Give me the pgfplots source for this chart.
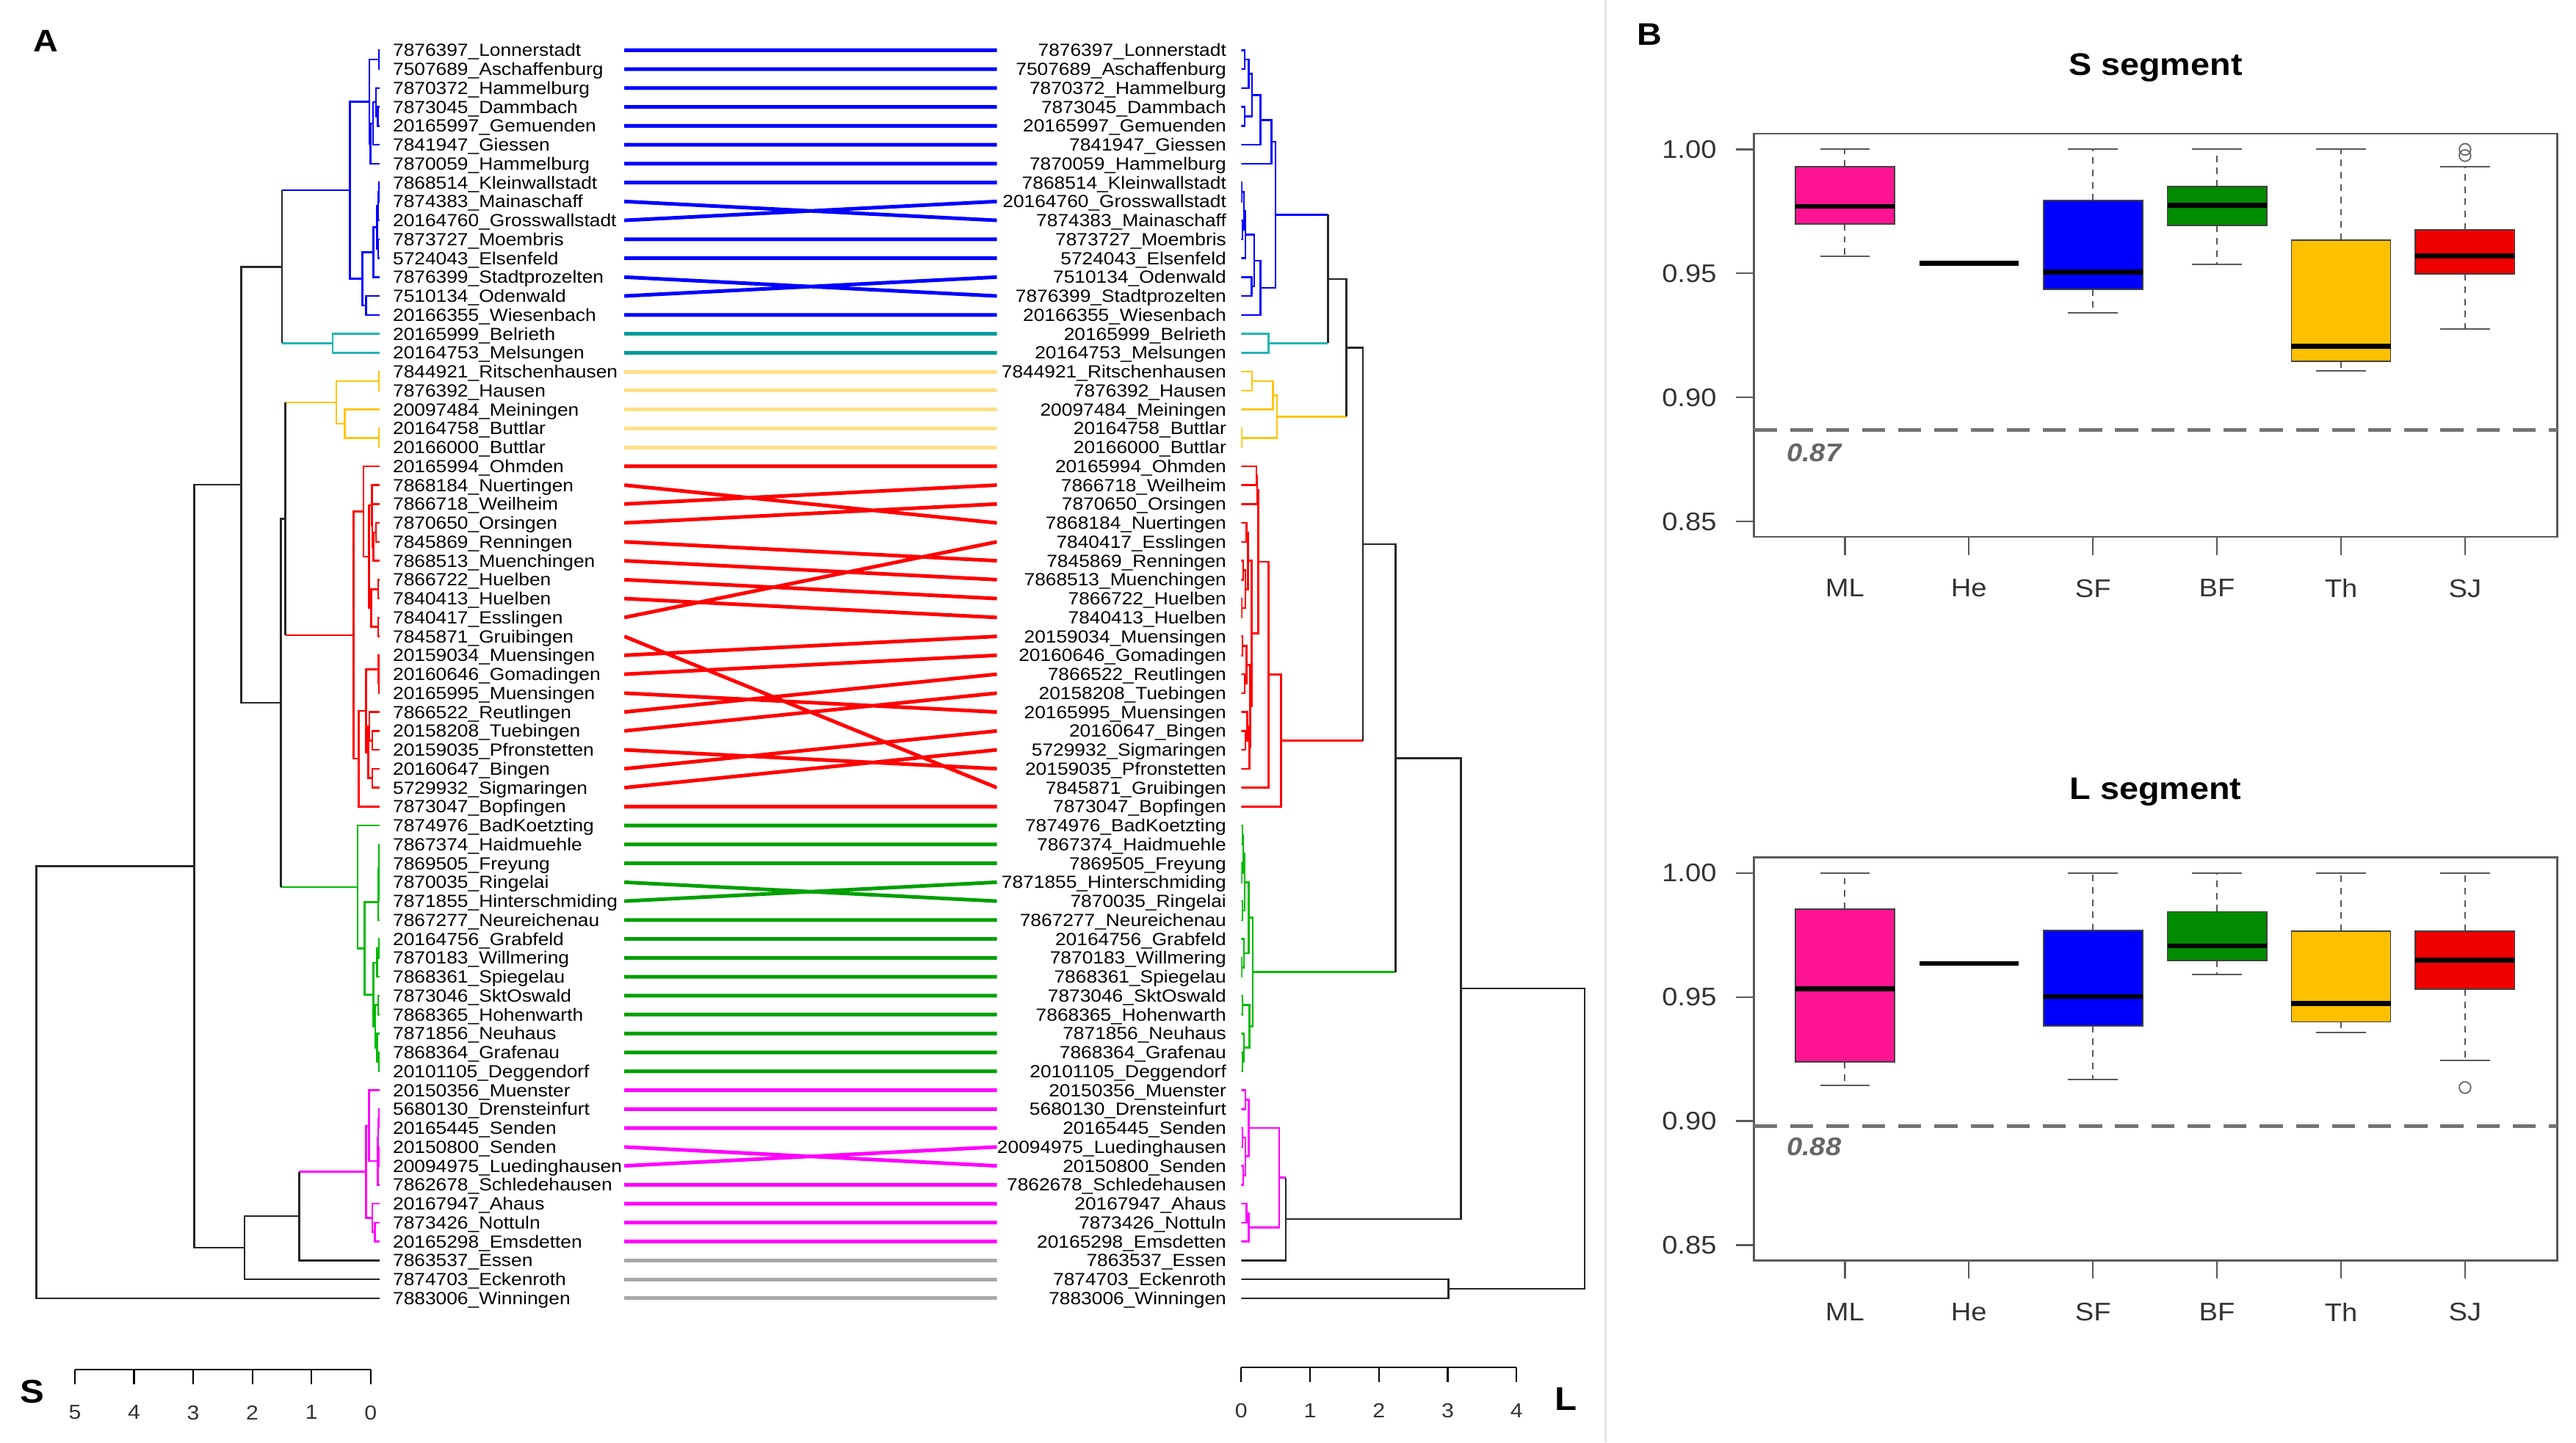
\documentclass[border=0pt]{standalone}
\usepackage{fontspec}
\setmainfont[FakeStretch=1.1]{Liberation Sans}
\newfontfamily\lab[FakeStretch=1.1]{Liberation Sans}
\usepackage{pgfplots}
\pgfplotsset{compat=1.18}
\usepgfplotslibrary{statistics}

\definecolor{dBlue}{HTML}{0000FF}
\definecolor{dTeal}{HTML}{22B5B5}
\definecolor{cTeal}{HTML}{009A9A}
\definecolor{dGold}{HTML}{FFC510}
\definecolor{cGold}{HTML}{FFDF85}
\definecolor{dRed}{HTML}{FF0000}
\definecolor{dGreen}{HTML}{00BB00}
\definecolor{cGreen}{HTML}{00A000}
\definecolor{dMag}{HTML}{FF00FF}
\definecolor{cGray}{HTML}{A8A8A8}
\definecolor{bML}{HTML}{FF1493}
\definecolor{bSF}{HTML}{0000FF}
\definecolor{bBF}{HTML}{008B00}
\definecolor{bTh}{HTML}{FFC000}
\definecolor{bSJ}{HTML}{EE0000}

\pgfplotsset{
  tang/.style={scale only axis, anchor=north west, height=782.68pt,
    ymin=0, ymax=68, y dir=reverse, unbounded coords=jump,
    axis line style={draw=none}, tick style={draw=none},
    major tick length=0pt, xtick=\empty},
  dend/.style={line width=1.15pt},
  conn/.style={line width=2.2pt},
  bxax/.style={scale only axis, anchor=north west, width=489.1pt, height=245.4pt,
    xmin=0.265, xmax=6.744, ymin=0.8438, ymax=1.0063,
    xtick={1,...,6}, xticklabels={ML,He,SF,BF,Th,SJ},
    ytick={0.85,0.9,0.95,1}, yticklabels={0.85,0.90,0.95,1.00},
    tick pos=left, tick align=outside, major tick length=11pt,
    axis line style={draw=black!65, line width=1.1pt},
    tick style={draw=black!65, line width=1pt},
    tick label style={font=\fontsize{15.5}{18}\selectfont, text=black!80, inner sep=0pt},
    xticklabel style={yshift=-14.6pt},
    yticklabel style={xshift=-11.5pt},
    title style={font=\bfseries\fontsize{19}{22}\selectfont, at={(0.5,1)}, anchor=center, yshift=34pt}},
  bx/.style={boxplot/draw direction=y, boxplot/box extend=0.8, boxplot/whisker extend=0,
    boxplot/every box/.style={draw=black!75, line width=0.8pt, fill=#1},
    boxplot/every whisker/.style={draw=black!65, line width=0.9pt, dash pattern=on 4pt off 3.5pt},
    boxplot/every median/.style={draw=black, line width=3pt}},
  caps/.style={only marks, mark=-, mark size=15.1pt, mark options={draw=black!65, line width=0.9pt}},
  scalebar/.style={scale only axis, anchor=south west, height=1pt, ymin=0, ymax=1,
    axis x line*=bottom, axis y line=none, tick align=outside, major tick length=9pt,
    tick style={draw=black, line width=1pt}, axis line style={draw=black, line width=1pt},
    xticklabel style={font=\fontsize{12.3}{14}\selectfont, text=black!80, inner sep=0pt, yshift=-12.7pt}},
}

\begin{document}
\begin{tikzpicture}
\path[use as bounding box] (0pt,0pt) rectangle (1568pt,-878pt);
\draw[draw=black!10, line width=1.5pt] (977.3pt,0pt) -- (977.3pt,-878pt);
\node[font=\bfseries\fontsize{19}{22}\selectfont] at (27.7pt,-24.9pt) {A};
\node[font=\bfseries\fontsize{19}{22}\selectfont] at (1004pt,-21pt) {B};
\node[font=\bfseries\fontsize{20}{24}\selectfont] at (19.6pt,-847pt) {S};
\node[font=\bfseries\fontsize{20}{24}\selectfont] at (953pt,-851.5pt) {L};

% ---------------- left dendrogram (S segment)
\begin{axis}[tang, at={(15pt,-19.02pt)}, width=216pt, xmin=0, xmax=6, x dir=reverse,
  ytick={1,...,67}, yticklabel pos=right,
  yticklabel style={anchor=west, inner sep=0pt, xshift=8pt, font=\lab\fontsize{10.7}{12}\selectfont, text=black, text height=7.7pt, text depth=0pt},
  yticklabels={7876397\_Lonnerstadt,7507689\_Aschaffenburg,7870372\_Hammelburg,7873045\_Dammbach,20165997\_Gemuenden,7841947\_Giessen,7870059\_Hammelburg,7868514\_Kleinwallstadt,7874383\_Mainaschaff,20164760\_Grosswallstadt,7873727\_Moembris,5724043\_Elsenfeld,7876399\_Stadtprozelten,7510134\_Odenwald,20166355\_Wiesenbach,20165999\_Belrieth,20164753\_Melsungen,7844921\_Ritschenhausen,7876392\_Hausen,20097484\_Meiningen,20164758\_Buttlar,20166000\_Buttlar,20165994\_Ohmden,7868184\_Nuertingen,7866718\_Weilheim,7870650\_Orsingen,7845869\_Renningen,7868513\_Muenchingen,7866722\_Huelben,7840413\_Huelben,7840417\_Esslingen,7845871\_Gruibingen,20159034\_Muensingen,20160646\_Gomadingen,20165995\_Muensingen,7866522\_Reutlingen,20158208\_Tuebingen,20159035\_Pfronstetten,20160647\_Bingen,5729932\_Sigmaringen,7873047\_Bopfingen,7874976\_BadKoetzting,7867374\_Haidmuehle,7869505\_Freyung,7870035\_Ringelai,7871855\_Hinterschmiding,7867277\_Neureichenau,20164756\_Grabfeld,7870183\_Willmering,7868361\_Spiegelau,7873046\_SktOswald,7868365\_Hohenwarth,7871856\_Neuhaus,7868364\_Grafenau,20101105\_Deggendorf,20150356\_Muenster,5680130\_Drensteinfurt,20165445\_Senden,20150800\_Senden,20094975\_Luedinghausen,7862678\_Schledehausen,20167947\_Ahaus,7873426\_Nottuln,20165298\_Emsdetten,7863537\_Essen,7874703\_Eckenroth,7883006\_Winningen}]
\addplot[dend, dBlue] coordinates {
(0,1)(0.01,1)(0.01,2)(0,2) (nan,nan)
(0,4)(0.03,4)(0.03,5)(0,5) (nan,nan)
(0,3)(0.06,3)(0.06,4.5)(0.03,4.5) (nan,nan)
(0.06,3.75)(0.11,3.75)(0.11,6)(0,6) (nan,nan)
(0.11,4.875)(0.15,4.875)(0.15,7)(0,7) (nan,nan)
(0.01,1.5)(0.17,1.5)(0.17,5.9375)(0.15,5.9375) (nan,nan)
(0,8)(0.01,8)(0.01,9)(0,9) (nan,nan)
(0.01,8.5)(0.02,8.5)(0.02,10)(0,10) (nan,nan)
(0,11)(0.02,11)(0.02,12)(0,12) (nan,nan)
(0.02,9.25)(0.04,9.25)(0.04,11.5)(0.02,11.5) (nan,nan)
(0.04,10.375)(0.10,10.375)(0.10,13)(0,13) (nan,nan)
(0,14)(0.23,14)(0.23,15)(0,15) (nan,nan)
(0.10,11.6875)(0.29,11.6875)(0.29,14.5)(0.23,14.5) (nan,nan)
(0.17,3.71875)(0.50,3.71875)(0.50,13.09375)(0.29,13.09375) (nan,nan)
(0.50,8.40625)(1.65,8.40625)};
\addplot[dend, dTeal] coordinates {
(0,16)(0.79,16)(0.79,17)(0,17) (nan,nan)
(0.79,16.5)(1.65,16.5)};
\addplot[dend, dGold] coordinates {
(0,18)(0.01,18)(0.01,19)(0,19) (nan,nan)
(0,21)(0.01,21)(0.01,22)(0,22) (nan,nan)
(0,20)(0.59,20)(0.59,21.5)(0.01,21.5) (nan,nan)
(0.01,18.5)(0.73,18.5)(0.73,20.75)(0.59,20.75) (nan,nan)
(0.73,19.625)(1.59,19.625)};
\addplot[dend, dRed] coordinates {
(0,26)(0.06,26)(0.06,27)(0,27) (nan,nan)
(0.06,26.5)(0.10,26.5)(0.10,28)(0,28) (nan,nan)
(0,25)(0.12,25)(0.12,27.25)(0.10,27.25) (nan,nan)
(0,24)(0.13,24)(0.13,26.125)(0.12,26.125) (nan,nan)
(0,29)(0.02,29)(0.02,30)(0,30) (nan,nan)
(0,31)(0.02,31)(0.02,32)(0,32) (nan,nan)
(0.02,29.5)(0.14,29.5)(0.14,31.5)(0.02,31.5) (nan,nan)
(0.13,25.0625)(0.18,25.0625)(0.18,30.5)(0.14,30.5) (nan,nan)
(0,23)(0.27,23)(0.27,27.78125)(0.18,27.78125) (nan,nan)
(0,34)(0.01,34)(0.01,35)(0,35) (nan,nan)
(0,33)(0.015,33)(0.015,34.5)(0.01,34.5) (nan,nan)
(0,37)(0.12,37)(0.12,38)(0,38) (nan,nan)
(0,36)(0.17,36)(0.17,37.5)(0.12,37.5) (nan,nan)
(0,39)(0.12,39)(0.12,40)(0,40) (nan,nan)
(0.17,36.75)(0.19,36.75)(0.19,39.5)(0.12,39.5) (nan,nan)
(0.015,33.75)(0.23,33.75)(0.23,38.125)(0.19,38.125) (nan,nan)
(0.23,35.9375)(0.35,35.9375)(0.35,41)(0,41) (nan,nan)
(0.27,25.390625)(0.44,25.390625)(0.44,38.46875)(0.35,38.46875) (nan,nan)
(0.44,31.9297)(1.59,31.9297)};
\addplot[dend, dGreen] coordinates {
(0,43)(0.005,43)(0.005,44)(0,44) (nan,nan)
(0.005,43.5)(0.01,43.5)(0.01,45)(0,45) (nan,nan)
(0.01,44.25)(0.015,44.25)(0.015,46)(0,46) (nan,nan)
(0.015,45.125)(0.02,45.125)(0.02,47)(0,47) (nan,nan)
(0,48)(0.01,48)(0.01,49)(0,49) (nan,nan)
(0.01,48.5)(0.04,48.5)(0.04,50)(0,50) (nan,nan)
(0,51)(0.02,51)(0.02,52)(0,52) (nan,nan)
(0,54)(0.01,54)(0.01,55)(0,55) (nan,nan)
(0,53)(0.04,53)(0.04,54.5)(0.01,54.5) (nan,nan)
(0.02,51.5)(0.07,51.5)(0.07,53.75)(0.04,53.75) (nan,nan)
(0.04,49.25)(0.10,49.25)(0.10,52.625)(0.07,52.625) (nan,nan)
(0.02,46.0625)(0.25,46.0625)(0.25,50.9375)(0.10,50.9375) (nan,nan)
(0,42)(0.37,42)(0.37,48.5)(0.25,48.5) (nan,nan)
(0.37,45.25)(1.67,45.25)};
\addplot[dend, dMag] coordinates {
(0,57)(0.01,57)(0.01,58)(0,58) (nan,nan)
(0,59)(0.005,59)(0.005,60)(0,60) (nan,nan)
(0.01,57.5)(0.02,57.5)(0.02,59.5)(0.005,59.5) (nan,nan)
(0.02,58.5)(0.03,58.5)(0.03,61)(0,61) (nan,nan)
(0,56)(0.18,56)(0.18,59.75)(0.03,59.75) (nan,nan)
(0,63)(0.08,63)(0.08,64)(0,64) (nan,nan)
(0,62)(0.12,62)(0.12,63.5)(0.08,63.5) (nan,nan)
(0.18,57.875)(0.23,57.875)(0.23,62.75)(0.12,62.75) (nan,nan)
(0.23,60.3125)(1.36,60.3125)};
\addplot[dend, black!85] coordinates {
(1.65,8.40625)(1.65,16.5) (nan,nan)
(1.59,19.625)(1.59,31.9297) (nan,nan)
(1.59,25.777)(1.67,25.777)(1.67,45.25) (nan,nan)
(1.65,12.453)(2.34,12.453)(2.34,35.514)(1.67,35.514) (nan,nan)
(2.34,23.98)(3.13,23.98)(3.13,64.328)(2.28,64.328) (nan,nan)
(1.36,60.3125)(1.36,65)(0,65) (nan,nan)
(1.36,62.656)(2.28,62.656)(2.28,66)(0,66) (nan,nan)
(3.13,44.154)(5.80,44.154)(5.80,67)(0,67)};
\end{axis}

% ---------------- right dendrogram (L segment)
\begin{axis}[tang, at={(755.5pt,-19.02pt)}, width=230.45pt, xmin=0, xmax=5.5,
  ytick={1,...,67}, yticklabel pos=left,
  yticklabel style={anchor=east, inner sep=0pt, xshift=-8.9pt, font=\lab\fontsize{10.7}{12}\selectfont, text=black, text height=7.7pt, text depth=0pt},
  yticklabels={7876397\_Lonnerstadt,7507689\_Aschaffenburg,7870372\_Hammelburg,7873045\_Dammbach,20165997\_Gemuenden,7841947\_Giessen,7870059\_Hammelburg,7868514\_Kleinwallstadt,20164760\_Grosswallstadt,7874383\_Mainaschaff,7873727\_Moembris,5724043\_Elsenfeld,7510134\_Odenwald,7876399\_Stadtprozelten,20166355\_Wiesenbach,20165999\_Belrieth,20164753\_Melsungen,7844921\_Ritschenhausen,7876392\_Hausen,20097484\_Meiningen,20164758\_Buttlar,20166000\_Buttlar,20165994\_Ohmden,7866718\_Weilheim,7870650\_Orsingen,7868184\_Nuertingen,7840417\_Esslingen,7845869\_Renningen,7868513\_Muenchingen,7866722\_Huelben,7840413\_Huelben,20159034\_Muensingen,20160646\_Gomadingen,7866522\_Reutlingen,20158208\_Tuebingen,20165995\_Muensingen,20160647\_Bingen,5729932\_Sigmaringen,20159035\_Pfronstetten,7845871\_Gruibingen,7873047\_Bopfingen,7874976\_BadKoetzting,7867374\_Haidmuehle,7869505\_Freyung,7871855\_Hinterschmiding,7870035\_Ringelai,7867277\_Neureichenau,20164756\_Grabfeld,7870183\_Willmering,7868361\_Spiegelau,7873046\_SktOswald,7868365\_Hohenwarth,7871856\_Neuhaus,7868364\_Grafenau,20101105\_Deggendorf,20150356\_Muenster,5680130\_Drensteinfurt,20165445\_Senden,20094975\_Luedinghausen,20150800\_Senden,7862678\_Schledehausen,20167947\_Ahaus,7873426\_Nottuln,20165298\_Emsdetten,7863537\_Essen,7874703\_Eckenroth,7883006\_Winningen}]
\addplot[dend, dBlue] coordinates {
(0,1)(0.05,1)(0.05,2)(0,2) (nan,nan)
(0.05,1.5)(0.11,1.5)(0.11,3)(0,3) (nan,nan)
(0,4)(0.05,4)(0.05,5)(0,5) (nan,nan)
(0.11,2.25)(0.155,2.25)(0.155,4.5)(0.05,4.5) (nan,nan)
(0.155,3.375)(0.28,3.375)(0.28,6)(0,6) (nan,nan)
(0.28,4.6875)(0.44,4.6875)(0.44,7)(0,7) (nan,nan)
(0,8)(0.01,8)(0.01,9)(0,9) (nan,nan)
(0,10)(0.02,10)(0.02,11)(0,11) (nan,nan)
(0.01,8.5)(0.04,8.5)(0.04,10.5)(0.02,10.5) (nan,nan)
(0.04,9.5)(0.06,9.5)(0.06,12)(0,12) (nan,nan)
(0,13)(0.15,13)(0.15,14)(0,14) (nan,nan)
(0.06,10.75)(0.19,10.75)(0.19,13.5)(0.15,13.5) (nan,nan)
(0.19,12.125)(0.28,12.125)(0.28,15)(0,15) (nan,nan)
(0.44,5.84375)(0.50,5.84375)(0.50,13.5625)(0.28,13.5625) (nan,nan)
(0.50,9.703)(1.26,9.703)};
\addplot[dend, dTeal] coordinates {
(0,16)(0.40,16)(0.40,17)(0,17) (nan,nan)
(0.40,16.5)(1.26,16.5)};
\addplot[dend, dGold] coordinates {
(0,18)(0.155,18)(0.155,19)(0,19) (nan,nan)
(0.155,18.5)(0.46,18.5)(0.46,20)(0,20) (nan,nan)
(0,21)(0.01,21)(0.01,22)(0,22) (nan,nan)
(0.46,19.25)(0.52,19.25)(0.52,21.5)(0.01,21.5) (nan,nan)
(0.52,20.375)(1.53,20.375)};
\addplot[dend, dRed] coordinates {
(0,23)(0.22,23)(0.22,24)(0,24) (nan,nan)
(0.22,23.5)(0.23,23.5)(0.23,25)(0,25) (nan,nan)
(0,26)(0.08,26)(0.08,27)(0,27) (nan,nan)
(0,28)(0.03,28)(0.03,29)(0,29) (nan,nan)
(0,30)(0.01,30)(0.01,31)(0,31) (nan,nan)
(0.03,28.5)(0.06,28.5)(0.06,30.5)(0.01,30.5) (nan,nan)
(0.08,26.5)(0.10,26.5)(0.10,29.5)(0.06,29.5) (nan,nan)
(0,32)(0.02,32)(0.02,33)(0,33) (nan,nan)
(0,34)(0.05,34)(0.05,35)(0,35) (nan,nan)
(0.02,32.5)(0.08,32.5)(0.08,34.5)(0.05,34.5) (nan,nan)
(0,37)(0.06,37)(0.06,38)(0,38) (nan,nan)
(0,36)(0.09,36)(0.09,37.5)(0.06,37.5) (nan,nan)
(0.09,36.75)(0.12,36.75)(0.12,39)(0,39) (nan,nan)
(0.08,33.5)(0.13,33.5)(0.13,37.875)(0.12,37.875) (nan,nan)
(0.10,28)(0.15,28)(0.15,35.6875)(0.13,35.6875) (nan,nan)
(0.23,24.25)(0.25,24.25)(0.25,31.84375)(0.15,31.84375) (nan,nan)
(0.25,28.046875)(0.40,28.046875)(0.40,40)(0,40) (nan,nan)
(0.40,34.0234)(0.58,34.0234)(0.58,41)(0,41) (nan,nan)
(0.58,37.5117)(1.77,37.5117)};
\addplot[dend, dGreen] coordinates {
(0,42)(0.02,42)(0.02,43)(0,43) (nan,nan)
(0,44)(0.01,44)(0.01,45)(0,45) (nan,nan)
(0.02,42.5)(0.03,42.5)(0.03,44.5)(0.01,44.5) (nan,nan)
(0,46)(0.02,46)(0.02,47)(0,47) (nan,nan)
(0.03,43.5)(0.05,43.5)(0.05,46.5)(0.02,46.5) (nan,nan)
(0,49)(0.01,49)(0.01,50)(0,50) (nan,nan)
(0,48)(0.04,48)(0.04,49.5)(0.01,49.5) (nan,nan)
(0.05,45)(0.11,45)(0.11,48.75)(0.04,48.75) (nan,nan)
(0,51)(0.02,51)(0.02,52)(0,52) (nan,nan)
(0,54)(0.02,54)(0.02,55)(0,55) (nan,nan)
(0,53)(0.04,53)(0.04,54.5)(0.02,54.5) (nan,nan)
(0.02,51.5)(0.12,51.5)(0.12,53.75)(0.04,53.75) (nan,nan)
(0.11,46.875)(0.17,46.875)(0.17,52.625)(0.12,52.625) (nan,nan)
(0.17,49.75)(2.24,49.75)};
\addplot[dend, dMag] coordinates {
(0,56)(0.06,56)(0.06,57)(0,57) (nan,nan)
(0,58)(0.02,58)(0.02,59)(0,59) (nan,nan)
(0,60)(0.03,60)(0.03,61)(0,61) (nan,nan)
(0.02,58.5)(0.06,58.5)(0.06,60.5)(0.03,60.5) (nan,nan)
(0.06,56.5)(0.11,56.5)(0.11,59.5)(0.06,59.5) (nan,nan)
(0,62)(0.08,62)(0.08,63)(0,63) (nan,nan)
(0.08,62.5)(0.11,62.5)(0.11,64)(0,64) (nan,nan)
(0.11,58)(0.55,58)(0.55,63.25)(0.11,63.25) (nan,nan)
(0.55,60.625)(0.65,60.625)};
\addplot[dend, black!85] coordinates {
(1.26,9.703)(1.26,16.5) (nan,nan)
(1.26,13.1016)(1.53,13.1016)(1.53,20.375) (nan,nan)
(1.53,16.738)(1.77,16.738)(1.77,37.5117) (nan,nan)
(1.77,27.125)(2.24,27.125)(2.24,49.75) (nan,nan)
(2.24,38.4375)(3.19,38.4375)(3.19,62.8125)(0.65,62.8125) (nan,nan)
(0.65,60.625)(0.65,65)(0,65) (nan,nan)
(0,66)(3.01,66)(3.01,67)(0,67) (nan,nan)
(3.19,50.625)(4.99,50.625)(4.99,66.5)(3.01,66.5)};
\end{axis}

% ---------------- connecting lines (left row -> right row)
\begin{axis}[tang, at={(380pt,-19.02pt)}, width=226.8pt, xmin=0, xmax=1, hide axis]
\addplot[conn, dBlue] coordinates {
(0,1)(1,1) (nan,nan) (0,2)(1,2) (nan,nan) (0,3)(1,3) (nan,nan) (0,4)(1,4) (nan,nan)
(0,5)(1,5) (nan,nan) (0,6)(1,6) (nan,nan) (0,7)(1,7) (nan,nan) (0,8)(1,8) (nan,nan)
(0,9)(1,10) (nan,nan) (0,10)(1,9) (nan,nan) (0,11)(1,11) (nan,nan) (0,12)(1,12) (nan,nan)
(0,13)(1,14) (nan,nan) (0,14)(1,13) (nan,nan) (0,15)(1,15)};
\addplot[conn, cTeal] coordinates {(0,16)(1,16) (nan,nan) (0,17)(1,17)};
\addplot[conn, cGold] coordinates {
(0,18)(1,18) (nan,nan) (0,19)(1,19) (nan,nan) (0,20)(1,20) (nan,nan) (0,21)(1,21) (nan,nan) (0,22)(1,22)};
\addplot[conn, dRed] coordinates {
(0,23)(1,23) (nan,nan) (0,24)(1,26) (nan,nan) (0,25)(1,24) (nan,nan) (0,26)(1,25) (nan,nan)
(0,27)(1,28) (nan,nan) (0,28)(1,29) (nan,nan) (0,29)(1,30) (nan,nan) (0,30)(1,31) (nan,nan)
(0,31)(1,27) (nan,nan) (0,32)(1,40) (nan,nan) (0,33)(1,32) (nan,nan) (0,34)(1,33) (nan,nan)
(0,35)(1,36) (nan,nan) (0,36)(1,34) (nan,nan) (0,37)(1,35) (nan,nan) (0,38)(1,39) (nan,nan)
(0,39)(1,37) (nan,nan) (0,40)(1,38) (nan,nan) (0,41)(1,41)};
\addplot[conn, cGreen] coordinates {
(0,42)(1,42) (nan,nan) (0,43)(1,43) (nan,nan) (0,44)(1,44) (nan,nan) (0,45)(1,46) (nan,nan)
(0,46)(1,45) (nan,nan) (0,47)(1,47) (nan,nan) (0,48)(1,48) (nan,nan) (0,49)(1,49) (nan,nan)
(0,50)(1,50) (nan,nan) (0,51)(1,51) (nan,nan) (0,52)(1,52) (nan,nan) (0,53)(1,53) (nan,nan)
(0,54)(1,54) (nan,nan) (0,55)(1,55)};
\addplot[conn, dMag] coordinates {
(0,56)(1,56) (nan,nan) (0,57)(1,57) (nan,nan) (0,58)(1,58) (nan,nan) (0,59)(1,60) (nan,nan)
(0,60)(1,59) (nan,nan) (0,61)(1,61) (nan,nan) (0,62)(1,62) (nan,nan) (0,63)(1,63) (nan,nan) (0,64)(1,64)};
\addplot[conn, cGray] coordinates {(0,65)(1,65) (nan,nan) (0,66)(1,66) (nan,nan) (0,67)(1,67)};
\end{axis}

% ---------------- scale bars
\begin{axis}[scalebar, at={(45.6pt,-833.6pt)}, width=180pt, xmin=0, xmax=5, x dir=reverse,
  xtick={0,1,2,3,4,5}, xticklabels={0,1,2,3,4,5}]
\addplot[draw=none] coordinates {(0,0.5)(5,0.5)};
\end{axis}
\begin{axis}[scalebar, at={(755.5pt,-832.4pt)}, width=167.6pt, xmin=0, xmax=4,
  xtick={0,1,2,3,4}, xticklabels={0,1,2,3,4}]
\addplot[draw=none] coordinates {(0,0.5)(4,0.5)};
\end{axis}

% ---------------- box plots: S segment
\begin{axis}[bxax, at={(1067.5pt,-81.4pt)}, title={S segment}]
\addplot[bx=bML, boxplot prepared={draw position=1, lower whisker=0.957, lower quartile=0.970, median=0.977, upper quartile=0.993, upper whisker=1.000}] coordinates {};
\addplot[bx=white, boxplot/every box/.style={draw=none}, boxplot prepared={draw position=2, lower whisker=0.954, lower quartile=0.954, median=0.954, upper quartile=0.954, upper whisker=0.954}] coordinates {};
\addplot[bx=bSF, boxplot prepared={draw position=3, lower whisker=0.934, lower quartile=0.9437, median=0.9505, upper quartile=0.9793, upper whisker=1.000}] coordinates {};
\addplot[bx=bBF, boxplot prepared={draw position=4, lower whisker=0.9536, lower quartile=0.9693, median=0.9775, upper quartile=0.985, upper whisker=1.000}] coordinates {};
\addplot[bx=bTh, boxplot prepared={draw position=5, lower whisker=0.9106, lower quartile=0.9146, median=0.9206, upper quartile=0.9634, upper whisker=1.000}] coordinates {};
\addplot[bx=bSJ, boxplot prepared={draw position=6, lower whisker=0.9277, lower quartile=0.9498, median=0.957, upper quartile=0.9676, upper whisker=0.993}] coordinates {};
\addplot[caps] coordinates {(1,0.957)(1,1.0)(3,0.934)(3,1.0)(4,0.9536)(4,1.0)(5,0.9106)(5,1.0)(6,0.9277)(6,0.993)};
\addplot[only marks, mark=o, mark size=3.5pt, mark options={draw=black!60, line width=0.8pt}] coordinates {(6,1.0)(6,0.9975)};
\addplot[draw=black!55, line width=2.2pt, dash pattern=on 14pt off 8pt] coordinates {(0.265,0.887)(6.744,0.887)};
\node[font=\bfseries\itshape\fontsize{15.5}{18}\selectfont, text=black!60] at (axis cs:0.75,0.8778) {0.87};
\end{axis}

% ---------------- box plots: L segment
\begin{axis}[bxax, at={(1067.5pt,-521.8pt)}, title={L segment}]
\addplot[bx=bML, boxplot prepared={draw position=1, lower whisker=0.9143, lower quartile=0.9238, median=0.9532, upper quartile=0.9854, upper whisker=1.000}] coordinates {};
\addplot[bx=white, boxplot/every box/.style={draw=none}, boxplot prepared={draw position=2, lower whisker=0.9635, lower quartile=0.9635, median=0.9635, upper quartile=0.9635, upper whisker=0.9635}] coordinates {};
\addplot[bx=bSF, boxplot prepared={draw position=3, lower whisker=0.9167, lower quartile=0.9384, median=0.9502, upper quartile=0.9768, upper whisker=1.000}] coordinates {};
\addplot[bx=bBF, boxplot prepared={draw position=4, lower whisker=0.959, lower quartile=0.9648, median=0.9706, upper quartile=0.9844, upper whisker=1.000}] coordinates {};
\addplot[bx=bTh, boxplot prepared={draw position=5, lower whisker=0.9357, lower quartile=0.940, median=0.9473, upper quartile=0.9765, upper whisker=1.000}] coordinates {};
\addplot[bx=bSJ, boxplot prepared={draw position=6, lower whisker=0.9243, lower quartile=0.9532, median=0.9648, upper quartile=0.9765, upper whisker=1.000}] coordinates {};
\addplot[caps] coordinates {(1,0.9143)(1,1.0)(3,0.9167)(3,1.0)(4,0.959)(4,1.0)(5,0.9357)(5,1.0)(6,0.9243)(6,1.0)};
\addplot[only marks, mark=o, mark size=3.5pt, mark options={draw=black!60, line width=0.8pt}] coordinates {(6,0.9135)};
\addplot[draw=black!55, line width=2.2pt, dash pattern=on 14pt off 8pt] coordinates {(0.265,0.898)(6.744,0.898)};
\node[font=\bfseries\itshape\fontsize{15.5}{18}\selectfont, text=black!60] at (axis cs:0.75,0.8897) {0.88};
\end{axis}
\end{tikzpicture}
\end{document}
